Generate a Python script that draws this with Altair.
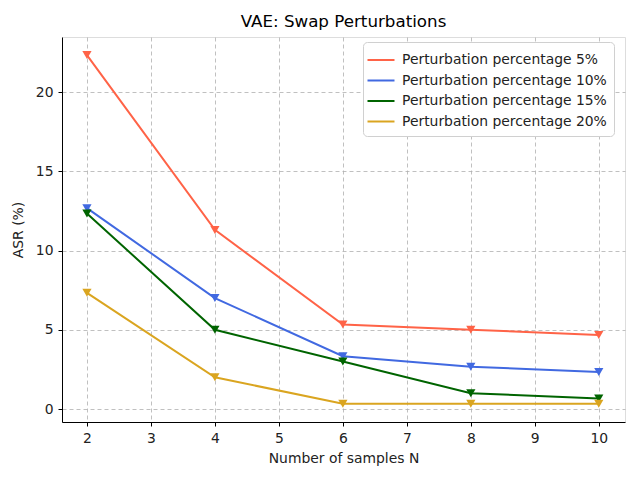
import altair as alt
import pandas as pd

samples = [2, 4, 6, 8, 10]
series_names = [
    "Perturbation percentage 5%",
    "Perturbation percentage 10%",
    "Perturbation percentage 15%",
    "Perturbation percentage 20%",
]
asr_5 = [22.33, 11.3, 5.33, 5.0, 4.67]
asr_10 = [12.67, 7.0, 3.33, 2.67, 2.33]
asr_15 = [12.33, 5.0, 3.0, 1.0, 0.67]
asr_20 = [7.33, 2.0, 0.33, 0.33, 0.33]
colors = ["#ff6347", "#4169e1", "#006400", "#daa520"]

rows = []
for name, vals in zip(series_names, [asr_5, asr_10, asr_15, asr_20]):
    for n, v in zip(samples, vals):
        rows.append({"N": n, "ASR": v, "series": name})
df = pd.DataFrame(rows)

font = "DejaVu Sans"
fs = 13.9
x = alt.X("N:Q", title="Number of samples N",
          scale=alt.Scale(domain=[1.61, 10.41], nice=False, zero=False),
          axis=alt.Axis(values=list(range(2, 11)), format="d", grid=True,
                        gridDash=[4, 3], gridColor="#b0b0b0", gridWidth=0.8,
                        domainColor="black", tickColor="black", tickSize=4,
                        labelFontSize=fs, titleFontSize=fs, labelFont=font,
                        titleFont=font, titleFontWeight="normal", labelColor="#222",
                        titleColor="#222", labelPadding=5, titlePadding=7))
y = alt.Y("ASR:Q", title="ASR (%)",
          scale=alt.Scale(domain=[-0.82, 23.47], nice=False, zero=False),
          axis=alt.Axis(values=[0, 5, 10, 15, 20], grid=True,
                        gridDash=[4, 3], gridColor="#b0b0b0", gridWidth=0.8,
                        domainColor="black", tickColor="black", tickSize=4,
                        labelFontSize=fs, titleFontSize=fs, labelFont=font,
                        titleFont=font, titleFontWeight="normal", labelColor="#222",
                        titleColor="#222", labelPadding=5, titlePadding=10))
color = alt.Color("series:N", scale=alt.Scale(domain=series_names, range=colors),
                  sort=series_names,
                  legend=alt.Legend(title=None, orient="none", legendX=301, legendY=5,
                                    symbolType="M-1.35,0L1.35,0", symbolStrokeWidth=2,
                                    symbolSize=400, labelFontSize=fs, labelFont=font,
                                    labelColor="#222", rowPadding=2.5, labelLimit=400,
                                    labelOffset=10,
                                    fillColor="white", strokeColor="#d0d0d0",
                                    cornerRadius=4, padding=7, offset=0))

base = alt.Chart(df)
lines = base.mark_line(strokeWidth=2).encode(x=x, y=y, color=color)
points = base.mark_point(shape="triangle-down", filled=True, size=85, opacity=1).encode(
    x=x, y=y, color=alt.Color("series:N", scale=alt.Scale(domain=series_names, range=colors), legend=None))

chart = alt.layer(lines, points).properties(
    width=563, height=385,
    title=alt.Title("VAE: Swap Perturbations", fontSize=16.7, font=font,
                    fontWeight="normal", color="black", offset=6),
    autosize=alt.AutoSizeParams(type="none"),
    padding={"left": 54, "top": 29, "right": 7, "bottom": 50},
).configure_view(stroke=None).configure(background="white")

chart.save("out.html", embed_options={"renderer": "svg", "actions": False})
